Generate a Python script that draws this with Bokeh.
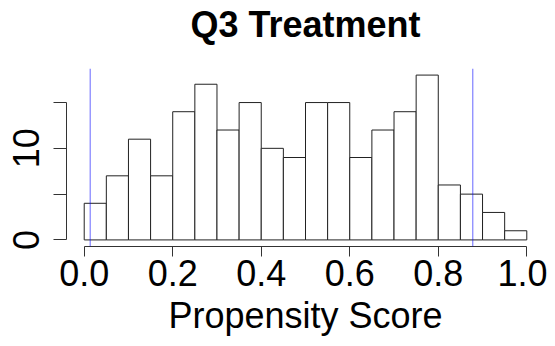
from bokeh.plotting import figure
from bokeh.models import Range1d, FixedTicker, NumeralTickFormatter, Span, LinearAxis
from bokeh.embed import file_html
from bokeh.resources import INLINE

# Data
bin_left = [0.00, 0.05, 0.10, 0.15, 0.20, 0.25, 0.30, 0.35, 0.40, 0.45,
            0.50, 0.55, 0.60, 0.65, 0.70, 0.75, 0.80, 0.85, 0.90, 0.95]
bin_right = [0.05, 0.10, 0.15, 0.20, 0.25, 0.30, 0.35, 0.40, 0.45, 0.50,
             0.55, 0.60, 0.65, 0.70, 0.75, 0.80, 0.85, 0.90, 0.95, 1.00]
counts = [4, 7, 11, 7, 14, 17, 12, 15, 10, 9, 15, 15, 9, 12, 14, 18, 6, 5, 3, 1]
cutoffs = [0.0135, 0.878]
x_ticks = [0.0, 0.2, 0.4, 0.6, 0.8, 1.0]
y_ticks = [0, 5, 10, 15]
y_hidden = {5: "", 15: ""}
title_text = "Q3 Treatment"
x_label = "Propensity Score"

FONT = "Liberation Sans"

p = figure(width=547, height=338, output_backend="svg", toolbar_location=None,
           x_range=Range1d(-0.04, 1.04), y_range=Range1d(-0.72, 18.72),
           min_border_left=66, min_border_right=3, min_border_top=67, min_border_bottom=90)

p.quad(left=bin_left, right=bin_right, top=counts, bottom=0,
       fill_color="white", line_color="#222222", line_width=1)

for c in cutoffs:
    p.add_layout(Span(location=c, dimension="height", line_color="blue",
                      line_alpha=0.6, line_width=1))

p.grid.visible = False
p.outline_line_color = None

xa = p.below[0]
xa.ticker = FixedTicker(ticks=x_ticks)
xa.formatter = NumeralTickFormatter(format="0.0")
xa.bounds = (0, 1)
xa.minor_tick_line_color = None
xa.major_tick_in = 0
xa.major_tick_out = 10
xa.major_label_standoff = 3
xa.major_label_text_font = FONT
xa.major_label_text_font_size = "36px"
xa.major_label_text_color = "black"
xa.axis_label = x_label
xa.axis_label_text_font = FONT
xa.axis_label_text_font_size = "36px"
xa.axis_label_text_font_style = "normal"
xa.axis_label_text_color = "black"
xa.axis_label_text_line_height = 1.0
xa.axis_label_standoff = 6
xa.axis_line_color = "#333333"
xa.major_tick_line_color = "#333333"

ya = p.left[0]
ya.ticker = FixedTicker(ticks=y_ticks)
ya.major_label_overrides = y_hidden
ya.bounds = (0, 15)
ya.minor_tick_line_color = None
ya.major_tick_in = 0
ya.major_tick_out = 13
ya.major_label_standoff = 14
ya.major_label_orientation = "parallel"
ya.major_label_text_font = FONT
ya.major_label_text_font_size = "36px"
ya.major_label_text_color = "black"
ya.axis_line_color = "#333333"
ya.major_tick_line_color = "#333333"

# title drawn as the label of a bare axis above the frame
ta = LinearAxis(ticker=FixedTicker(ticks=[]), axis_label=title_text,
                axis_line_color=None, major_tick_line_color=None,
                minor_tick_line_color=None, major_tick_out=0, major_tick_in=0,
                major_label_standoff=0, axis_label_standoff=24,
                axis_label_text_font=FONT, axis_label_text_font_size="36px",
                axis_label_text_font_style="bold", axis_label_text_color="black",
                axis_label_text_line_height=1.0)
p.add_layout(ta, "above")

open("out.html", "w").write(file_html(p, INLINE))
